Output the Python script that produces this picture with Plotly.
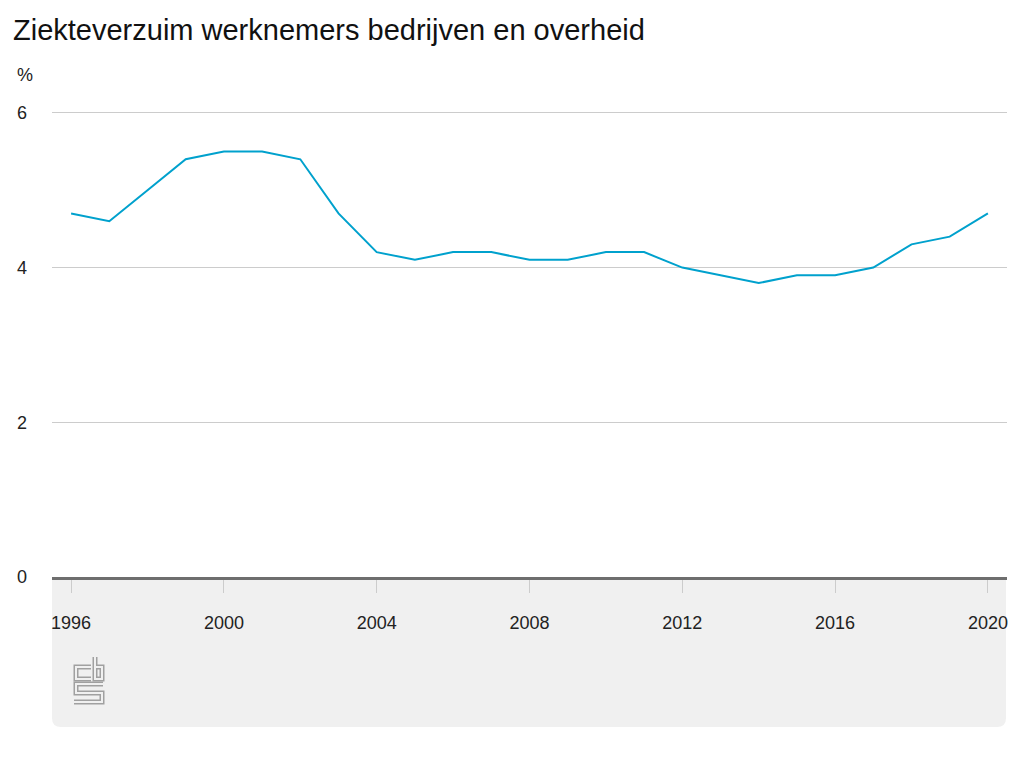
import plotly.graph_objects as go

# sick leave of employees, companies and government (%)
years = list(range(1996, 2021))
verzuim = [4.7, 4.6, 5.0, 5.4, 5.5, 5.5, 5.4, 4.7, 4.2, 4.1, 4.2, 4.2, 4.1,
           4.1, 4.2, 4.2, 4.0, 3.9, 3.8, 3.9, 3.9, 4.0, 4.3, 4.4, 4.7]
x_ticks = [1996, 2000, 2004, 2008, 2012, 2016, 2020]
y_ticks = [0, 2, 4, 6]
y_top = 6.05

title = 'Ziekteverzuim werknemers bedrijven en overheid'

# page body has an 8px margin: keep the figure inside the window
OFF = 8
FW, FH = 1024 - 2 * OFF, 768 - 2 * OFF
L, R, B = 52 - OFF, 1007 - OFF, 577 - OFF
T = round(B - (B - (113 - OFF)) * y_top / 6)
W, H = R - L, B - T


def px(x):
    return (x - OFF - L) / W


def py(y):
    return (B - (y - OFF)) / H


fig = go.Figure()

fig.add_trace(go.Scatter(
    x=years, y=verzuim,
    mode='lines',
    line=dict(color='#00a1cd', width=2),
    hoverinfo='x+y',
    showlegend=False
))

#grey footer panel with rounded bottom corners
r = 9
x0, x1, y0, y1 = px(52), px(1006), py(577), py(727)
rx, ry = r / W, r / H
panel = (f'M {x0},{y0} L {x1},{y0} L {x1},{y1 + ry} '
         f'Q {x1},{y1} {x1 - rx},{y1} L {x0 + rx},{y1} '
         f'Q {x0},{y1} {x0},{y1 + ry} Z')
shapes = [dict(type='path', path=panel, xref='paper', yref='paper',
               fillcolor='#f0f0f0', line=dict(width=0), layer='below')]

#cbs logo, outlined strokes
logo_paths = [
    [(91, 667), (76, 667), (76, 679), (91, 679)],
    [(95, 657), (95, 679), (102, 679), (102, 667), (95, 667)],
    [(103, 684), (76, 684), (76, 693), (102, 693), (102, 702), (74, 702)],
]
for width, colour in [(5, '#a0a0a0'), (2, '#f0f0f0')]:
    for pts in logo_paths:
        d = 'M ' + ' L '.join(f'{px(a)},{py(b)}' for a, b in pts)
        shapes.append(dict(type='path', path=d, xref='paper', yref='paper',
                           line=dict(color=colour, width=width)))

fig.update_layout(
    width=FW, height=FH,
    margin=dict(l=L, r=FW - R, t=T, b=FH - B),
    paper_bgcolor='white',
    plot_bgcolor='white',
    font=dict(family='Liberation Sans, Arial, sans-serif', size=18, color='#222222'),
    shapes=shapes,
    xaxis=dict(
        range=[1995.5, 2020.5],
        tickvals=x_ticks,
        ticks='outside', ticklen=13, tickwidth=1, tickcolor='#cccccc',
        ticklabelstandoff=14,
        showgrid=False, zeroline=False,
        showline=True, linecolor='#6e6e6e', linewidth=3,
        tickfont=dict(size=18, color='#222222')
    ),
    yaxis=dict(
        range=[0, y_top],
        tickvals=y_ticks,
        showgrid=True, gridcolor='#cccccc', gridwidth=1,
        zeroline=False, showline=False,
        ticklabelstandoff=24,
        tickfont=dict(size=18, color='#222222')
    ),
    annotations=[
        dict(text=title, xref='paper', yref='paper', x=px(11), y=py(30),
             xanchor='left', yanchor='middle', showarrow=False,
             font=dict(size=29, color='#111111')),
        dict(text='%', xref='paper', yref='paper', x=px(15), y=py(75),
             xanchor='left', yanchor='middle', showarrow=False,
             font=dict(size=18, color='#222222')),
    ]
)

fig.write_html('out.html')
